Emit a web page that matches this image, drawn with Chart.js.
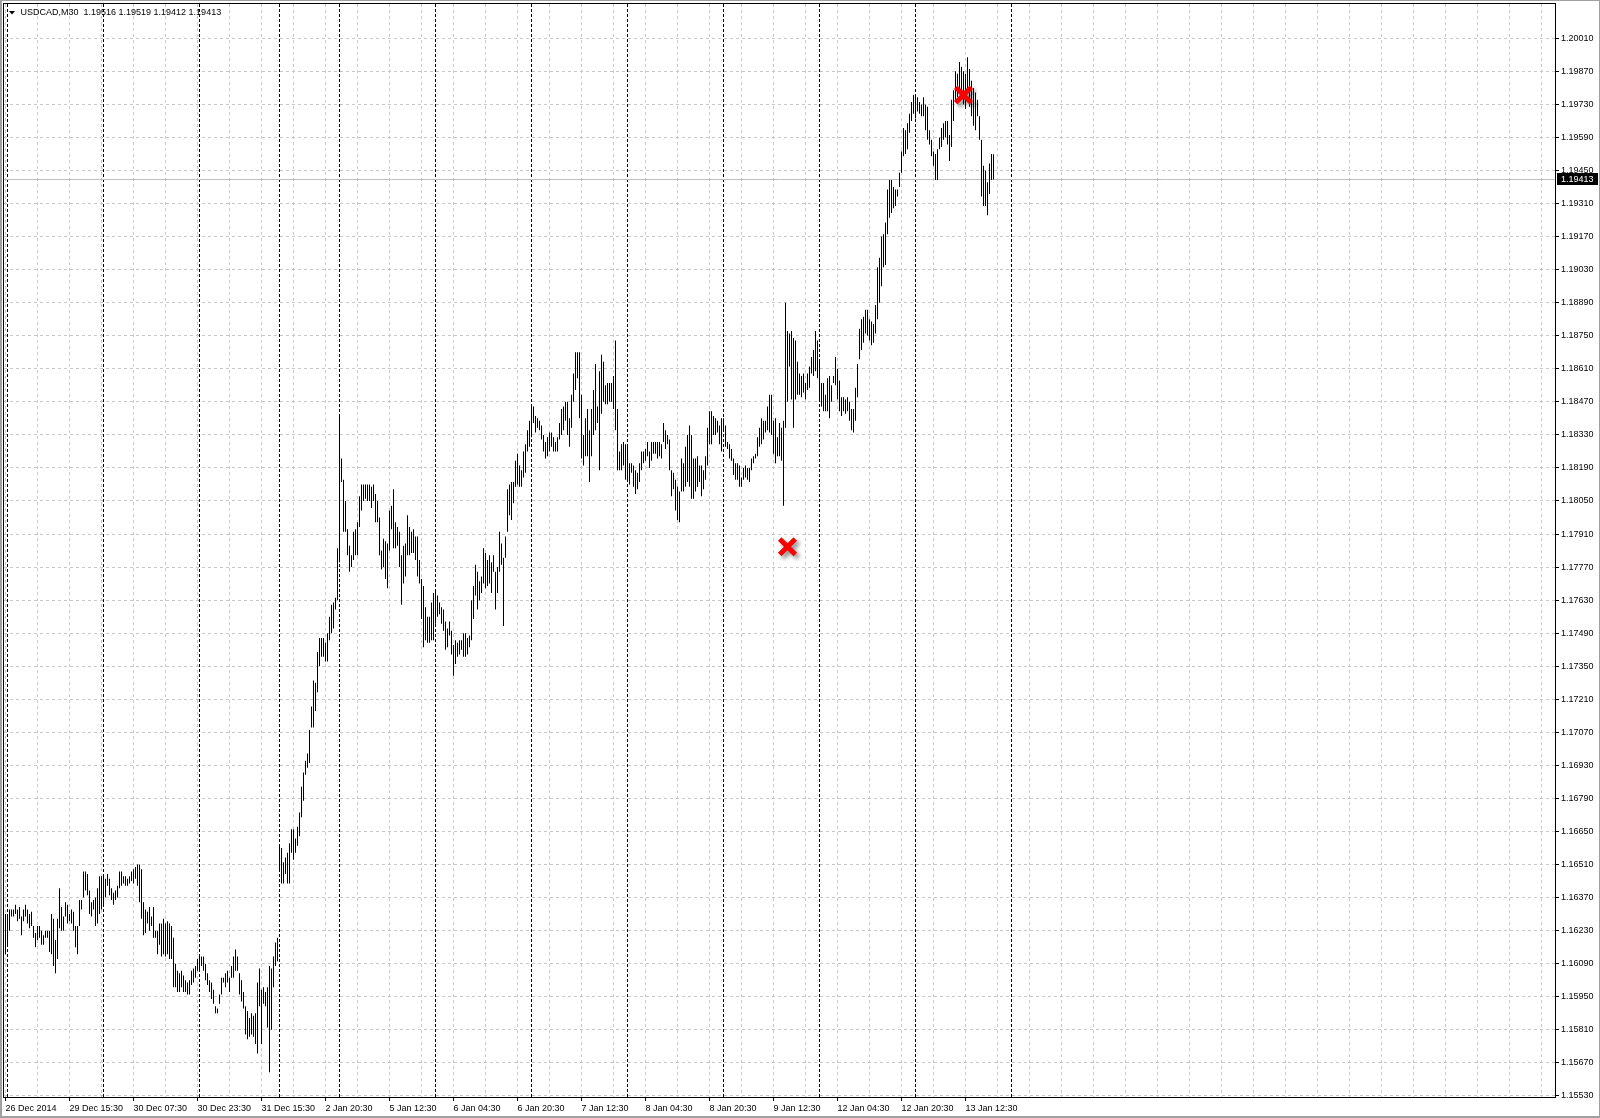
<!DOCTYPE html>
<html>
<head>
<meta charset="utf-8">
<title>USDCAD,M30</title>
<script src="https://cdn.jsdelivr.net/npm/chart.js"></script>
<style>
  html, body { margin: 0; padding: 0; background: #fff; }
  canvas { display: block; }
</style>
</head>
<body>
<canvas id="chart" width="1600" height="1118"></canvas>
<script>
// -------- DATA --------
const symbolTitle = "USDCAD,M30  1.19516 1.19519 1.19412 1.19413";

// M30 bar highs, one per bar, left to right
const highs = [
  // 0
  1.1630,1.1629,1.1632,1.1632,1.1632,1.1634,1.1632,1.1633,1.1629,1.1632,
  1.1634,1.1632,1.1630,1.1631,1.1625,1.1622,1.1625,1.1625,1.1623,1.1621,
  1.1623,1.1623,1.1623,1.1630,1.1628,1.1619,1.1628,1.1641,1.1633,1.1629,
  1.1635,1.1634,1.1630,1.1632,1.1631,1.1625,1.1625,1.1636,1.1636,1.1648,
  1.1648,1.1647,1.1640,1.1635,1.1636,1.1637,1.1641,1.1646,1.1646,1.1647,
  // 50
  1.1645,1.1647,1.1645,1.1641,1.1639,1.1640,1.1642,1.1648,1.1648,1.1646,
  1.1646,1.1645,1.1646,1.1648,1.1649,1.1650,1.1651,1.1651,1.1649,1.1635,
  1.1632,1.1631,1.1633,1.1629,1.1633,1.1623,1.1623,1.1626,1.1626,1.1628,
  1.1626,1.1627,1.1626,1.1625,1.1620,1.1609,1.1606,1.1605,1.1606,1.1604,
  1.1602,1.1601,1.1602,1.1606,1.1607,1.1608,1.1611,1.1612,1.1612,1.1612,
  // 100
  1.1609,1.1605,1.1602,1.1601,1.1598,1.1591,1.1590,1.1596,1.1603,1.1603,
  1.1605,1.1606,1.1603,1.1608,1.1612,1.1615,1.1612,1.1605,1.1602,1.1597,
  1.1591,1.1589,1.1586,1.1588,1.1587,1.1588,1.1601,1.1607,1.1598,1.1599,
  1.1597,1.1599,1.1608,1.1607,1.1612,1.1618,1.1620,1.1659,1.1658,1.1652,
  1.1654,1.1656,1.1660,1.1666,1.1666,1.1662,1.1667,1.1673,1.1684,1.1690,
  // 150
  1.1695,1.1698,1.1708,1.1718,1.1729,1.1728,1.1741,1.1747,1.1747,1.1747,
  1.1745,1.1749,1.1756,1.1761,1.1762,1.1764,1.1785,1.1841,1.1823,1.1814,
  1.1805,1.1793,1.1786,1.1782,1.1792,1.1793,1.1796,1.1807,1.1812,1.1812,
  1.1812,1.1812,1.1812,1.1811,1.1812,1.1808,1.1805,1.1798,1.1784,1.1789,
  1.1788,1.1787,1.1801,1.1803,1.1810,1.1796,1.1794,1.1792,1.1782,1.1786,
  // 200
  1.1787,1.1799,1.1794,1.1792,1.1793,1.1790,1.1790,1.1780,1.1772,1.1769,
  1.1760,1.1756,1.1756,1.1762,1.1766,1.1767,1.1765,1.1762,1.1760,1.1759,
  1.1754,1.1751,1.1754,1.1750,1.1744,1.1746,1.1745,1.1746,1.1746,1.1749,
  1.1749,1.1747,1.1748,1.1763,1.1769,1.1778,1.1775,1.1771,1.1773,1.1785,
  1.1783,1.1780,1.1782,1.1779,1.1782,1.1775,1.1777,1.1792,1.1787,1.1781,
  // 250
  1.1790,1.1810,1.1812,1.1813,1.1813,1.1822,1.1825,1.1820,1.1818,1.1826,
  1.1829,1.1835,1.1839,1.1845,1.1845,1.1841,1.1840,1.1839,1.1837,1.1833,
  1.1830,1.1832,1.1834,1.1834,1.1832,1.1830,1.1832,1.1838,1.1844,1.1845,
  1.1847,1.1847,1.1840,1.1850,1.1859,1.1868,1.1868,1.1868,1.1850,1.1833,
  1.1840,1.1844,1.1835,1.1844,1.1852,1.1863,1.1845,1.1860,1.1867,1.1864,
  // 300
  1.1854,1.1855,1.1855,1.1855,1.1858,1.1873,1.1844,1.1826,1.1829,1.1830,
  1.1829,1.1828,1.1821,1.1821,1.1820,1.1818,1.1817,1.1821,1.1826,1.1826,
  1.1827,1.1830,1.1826,1.1830,1.1830,1.1830,1.1830,1.1830,1.1829,1.1838,
  1.1835,1.1833,1.1831,1.1818,1.1817,1.1814,1.1811,1.1809,1.1823,1.1821,
  1.1828,1.1833,1.1837,1.1833,1.1823,1.1823,1.1824,1.1820,1.1820,1.1818,
  // 350
  1.1824,1.1836,1.1843,1.1843,1.1841,1.1840,1.1839,1.1837,1.1840,1.1840,
  1.1837,1.1830,1.1829,1.1827,1.1823,1.1821,1.1821,1.1820,1.1815,1.1819,
  1.1820,1.1819,1.1819,1.1823,1.1824,1.1825,1.1832,1.1836,1.1840,1.1839,
  1.1839,1.1845,1.1850,1.1850,1.1839,1.1840,1.1832,1.1838,1.1836,1.1839,
  1.1889,1.1877,1.1876,1.1877,1.1874,1.1873,1.1864,1.1859,1.1858,1.1859,
  // 400
  1.1855,1.1859,1.1862,1.1866,1.1869,1.1877,1.1873,1.1865,1.1855,1.1855,
  1.1850,1.1857,1.1858,1.1854,1.1858,1.1866,1.1861,1.1856,1.1849,1.1849,
  1.1848,1.1849,1.1847,1.1844,1.1844,1.1853,1.1863,1.1878,1.1882,1.1883,
  1.1886,1.1886,1.1882,1.1881,1.1880,1.1888,1.1904,1.1908,1.1917,1.1918,
  1.1923,1.1937,1.1941,1.1941,1.1938,1.1937,1.1937,1.1944,1.1953,1.1963,
  // 450
  1.1962,1.1965,1.1969,1.1974,1.1977,1.1977,1.1976,1.1974,1.1973,1.1976,
  1.1973,1.1972,1.1962,1.1958,1.1953,1.1952,1.1954,1.1959,1.1963,1.1965,
  1.1966,1.1966,1.1960,1.1975,1.1979,1.1987,1.1986,1.1991,1.1989,1.1987,
  1.1986,1.1993,1.1988,1.1983,1.1980,1.1978,1.1975,1.1968,1.1958,1.1947,
  1.1945,1.1940,1.1948,1.1952,1.19519
];

// M30 bar lows, same order
const lows = [
  // 0
  1.1613,1.1617,1.1623,1.1629,1.1629,1.1630,1.1627,1.1628,1.1621,1.1627,
  1.1629,1.1626,1.1624,1.1625,1.1620,1.1616,1.1619,1.1620,1.1617,1.1617,
  1.1620,1.1620,1.1614,1.1613,1.1608,1.1605,1.1611,1.1624,1.1623,1.1623,
  1.1629,1.1626,1.1627,1.1626,1.1623,1.1616,1.1613,1.1625,1.1632,1.1637,
  1.1640,1.1638,1.1630,1.1629,1.1632,1.1625,1.1626,1.1630,1.1632,1.1633,
  // 50
  1.1637,1.1642,1.1638,1.1636,1.1634,1.1636,1.1637,1.1641,1.1642,1.1643,
  1.1642,1.1642,1.1643,1.1644,1.1643,1.1645,1.1642,1.1635,1.1628,1.1621,
  1.1622,1.1626,1.1623,1.1625,1.1620,1.1620,1.1613,1.1617,1.1612,1.1613,
  1.1612,1.1613,1.1611,1.1611,1.1599,1.1599,1.1597,1.1597,1.1599,1.1597,
  1.1597,1.1596,1.1596,1.1600,1.1601,1.1603,1.1606,1.1606,1.1608,1.1606,
  // 100
  1.1602,1.1600,1.1597,1.1594,1.1592,1.1588,1.1588,1.1592,1.1596,1.1601,
  1.1599,1.1601,1.1597,1.1603,1.1603,1.1606,1.1606,1.1596,1.1593,1.1590,
  1.1579,1.1577,1.1578,1.1579,1.1578,1.1575,1.1571,1.1591,1.1575,1.1592,
  1.1591,1.1582,1.1563,1.1581,1.1599,1.1608,1.1610,1.1648,1.1643,1.1643,
  1.1647,1.1643,1.1643,1.1656,1.1653,1.1656,1.1659,1.1663,1.1671,1.1678,
  // 150
  1.1689,1.1692,1.1694,1.1709,1.1709,1.1716,1.1724,1.1735,1.1739,1.1739,
  1.1737,1.1737,1.1746,1.1749,1.1751,1.1759,1.1763,1.1779,1.1813,1.1792,
  1.1792,1.1782,1.1775,1.1777,1.1780,1.1782,1.1782,1.1794,1.1801,1.1805,
  1.1806,1.1805,1.1805,1.1802,1.1805,1.1796,1.1796,1.1782,1.1776,1.1777,
  1.1772,1.1768,1.1784,1.1793,1.1785,1.1785,1.1786,1.1777,1.1761,1.1770,
  // 200
  1.1773,1.1782,1.1782,1.1783,1.1783,1.1780,1.1773,1.1770,1.1755,1.1743,
  1.1746,1.1745,1.1745,1.1746,1.1746,1.1753,1.1756,1.1757,1.1753,1.1750,
  1.1742,1.1743,1.1748,1.1740,1.1731,1.1736,1.1739,1.1740,1.1742,1.1739,
  1.1739,1.1740,1.1743,1.1746,1.1755,1.1765,1.1759,1.1763,1.1766,1.1770,
  1.1768,1.1769,1.1770,1.1766,1.1775,1.1759,1.1766,1.1775,1.1778,1.1752,
  // 250
  1.1781,1.1792,1.1799,1.1797,1.1804,1.1811,1.1812,1.1811,1.1811,1.1815,
  1.1817,1.1826,1.1828,1.1832,1.1838,1.1834,1.1836,1.1835,1.1831,1.1826,
  1.1823,1.1824,1.1826,1.1828,1.1826,1.1826,1.1826,1.1831,1.1833,1.1835,
  1.1839,1.1833,1.1828,1.1836,1.1847,1.1852,1.1857,1.1840,1.1823,1.1820,
  1.1824,1.1824,1.1813,1.1824,1.1833,1.1835,1.1838,1.1818,1.1842,1.1847,
  // 300
  1.1846,1.1846,1.1847,1.1847,1.1844,1.1835,1.1818,1.1818,1.1818,1.1820,
  1.1814,1.1813,1.1812,1.1817,1.1811,1.1808,1.1810,1.1813,1.1818,1.1821,
  1.1822,1.1824,1.1819,1.1822,1.1825,1.1825,1.1823,1.1824,1.1823,1.1830,
  1.1827,1.1829,1.1818,1.1807,1.1810,1.1801,1.1797,1.1796,1.1809,1.1809,
  1.1811,1.1813,1.1811,1.1806,1.1806,1.1809,1.1811,1.1813,1.1807,1.1810,
  // 350
  1.1814,1.1820,1.1829,1.1829,1.1833,1.1833,1.1834,1.1829,1.1826,1.1835,
  1.1828,1.1827,1.1823,1.1822,1.1816,1.1814,1.1814,1.1811,1.1811,1.1814,
  1.1815,1.1814,1.1813,1.1818,1.1821,1.1823,1.1824,1.1828,1.1829,1.1831,
  1.1834,1.1835,1.1834,1.1833,1.1825,1.1821,1.1824,1.1824,1.1822,1.1803,
  1.1836,1.1847,1.1862,1.1848,1.1836,1.1848,1.1850,1.1850,1.1849,1.1851,
  // 400
  1.1848,1.1852,1.1853,1.1859,1.1858,1.1860,1.1857,1.1847,1.1845,1.1843,
  1.1843,1.1843,1.1840,1.1847,1.1855,1.1854,1.1848,1.1843,1.1841,1.1843,
  1.1842,1.1843,1.1839,1.1835,1.1834,1.1839,1.1849,1.1865,1.1869,1.1872,
  1.1876,1.1875,1.1873,1.1871,1.1872,1.1876,1.1882,1.1889,1.1896,1.1904,
  1.1905,1.1918,1.1925,1.1927,1.1929,1.1930,1.1934,1.1938,1.1944,1.1951,
  // 450
  1.1952,1.1954,1.1961,1.1966,1.1969,1.1967,1.1970,1.1969,1.1968,1.1968,
  1.1962,1.1958,1.1956,1.1951,1.1947,1.1941,1.1941,1.1954,1.1955,1.1958,
  1.1959,1.1956,1.1949,1.1955,1.1966,1.1974,1.1976,1.1979,1.1975,1.1973,
  1.1971,1.1979,1.1972,1.1968,1.1964,1.1962,1.1968,1.1958,1.1934,1.1930,
  1.1930,1.1926,1.1935,1.1941,1.19412
];

// time axis labels and the bar they sit on
const xTickLabels = [
  "26 Dec 2014", "29 Dec 15:30", "30 Dec 07:30", "30 Dec 23:30", "31 Dec 15:30",
  "2 Jan 20:30", "5 Jan 12:30", "6 Jan 04:30", "6 Jan 20:30", "7 Jan 12:30",
  "8 Jan 04:30", "8 Jan 20:30", "9 Jan 12:30", "12 Jan 04:30", "12 Jan 20:30",
  "13 Jan 12:30"
];
const xTickBars = [0, 32, 64, 96, 128, 160, 192, 224, 256, 288, 320, 352, 384, 416, 448, 480];

// day separators (first bar of each day)
const separatorBars = [1, 49, 97, 137, 167, 215, 263, 311, 359, 407, 455, 503];

const yTicks = [
  1.15530, 1.15670, 1.15810, 1.15950, 1.16090, 1.16230, 1.16370, 1.16510,
  1.16650, 1.16790, 1.16930, 1.17070, 1.17210, 1.17350, 1.17490, 1.17630,
  1.17770, 1.17910, 1.18050, 1.18190, 1.18330, 1.18470, 1.18610, 1.18750,
  1.18890, 1.19030, 1.19170, 1.19310, 1.19450, 1.19590, 1.19730, 1.19870,
  1.20010
];

const bidPrice = 1.19413;

// red "X" arrow objects
const markers = [
  { x: 391, y: 1.17856 },
  { x: 479, y: 1.19770 }
];

// -------- VIEW --------
const FONT = "'Liberation Sans', Arial, sans-serif";
const X_MIN = -0.75, X_MAX = 774.75;     // 2 px per bar
const Y_MIN = 1.155253, Y_MAX = 1.201553;

const gridBars = [];
for (let b = 0; b <= X_MAX; b += 16) gridBars.push(b);

function labelAt(v) {
  const k = xTickBars.indexOf(v);
  return k >= 0 ? xTickLabels[k] : "";
}

const mtPlugin = {
  id: "mt4",
  beforeDatasetsDraw(chart) {
    const { ctx, chartArea: a, scales: { x, y } } = chart;
    ctx.save();
    // period separators
    ctx.strokeStyle = "#000";
    ctx.lineWidth = 1;
    ctx.setLineDash([3, 2]);
    separatorBars.forEach((b) => {
      const px = Math.floor(x.getPixelForValue(b)) + 0.5;
      if (px < a.left || px > a.right) return;
      ctx.beginPath();
      ctx.moveTo(px, a.top);
      ctx.lineTo(px, a.bottom);
      ctx.stroke();
    });
    // bid line
    ctx.setLineDash([]);
    ctx.strokeStyle = "#c0c0c0";
    const by = Math.floor(y.getPixelForValue(bidPrice)) + 0.5;
    ctx.beginPath();
    ctx.moveTo(a.left, by);
    ctx.lineTo(a.right, by);
    ctx.stroke();
    ctx.restore();
  },
  beforeDatasetDraw(chart, args) {
    if (args.index !== 1) return;
    const ctx = chart.ctx;
    ctx.save();
    ctx.shadowColor = "rgba(0,0,0,0.45)";
    ctx.shadowBlur = 4;
    ctx.shadowOffsetX = 3;
    ctx.shadowOffsetY = 3;
  },
  afterDatasetDraw(chart, args) {
    if (args.index !== 1) return;
    chart.ctx.restore();
  },
  afterDraw(chart) {
    const { ctx, chartArea: a, scales: { y }, width, height } = chart;
    ctx.save();
    // plot frame
    ctx.strokeStyle = "#000";
    ctx.lineWidth = 1;
    ctx.strokeRect(a.left - 0.5, a.top - 0.5, a.right - a.left + 1, a.bottom - a.top + 1);
    // window edge
    ctx.fillStyle = "#a0a0a0";
    ctx.fillRect(0, 0, width, 1);
    ctx.fillRect(0, 0, 2, height);
    ctx.fillRect(0, height - 2, width, 2);
    ctx.fillRect(width - 1, 0, 1, height);
    // header
    ctx.fillStyle = "#000";
    ctx.beginPath();
    ctx.moveTo(9, 11);
    ctx.lineTo(15, 11);
    ctx.lineTo(12, 14.5);
    ctx.closePath();
    ctx.fill();
    ctx.font = "9px " + FONT;
    ctx.textBaseline = "middle";
    ctx.fillText(symbolTitle, 20.5, 13);
    // current price box on the axis
    const by = y.getPixelForValue(bidPrice);
    ctx.fillRect(a.right + 2, Math.round(by) - 6, 41, 12);
    ctx.fillStyle = "#fff";
    ctx.fillText(bidPrice.toFixed(5), a.right + 6, Math.round(by) + 0.5);
    ctx.restore();
  }
};

const chart = new Chart(document.getElementById("chart"), {
  type: "bar",
  data: {
    datasets: [
      {
        type: "bar",
        label: "USDCAD",
        data: highs.map((h, i) => ({ x: i, y: [lows[i], h] })),
        backgroundColor: "#000",
        borderWidth: 0,
        barThickness: 1,
        inflateAmount: 0,
        grouped: false,
        order: 2
      },
      {
        type: "scatter",
        label: "marks",
        data: markers,
        pointStyle: "crossRot",
        pointRadius: 11,
        pointBorderWidth: 5,
        pointBorderColor: "#f80000",
        pointBackgroundColor: "#f80000",
        order: 1
      }
    ]
  },
  options: {
    responsive: false,
    animation: false,
    devicePixelRatio: 1,
    layout: { autoPadding: false, padding: { left: 4, top: 4, right: 0, bottom: 0 } },
    plugins: {
      legend: { display: false },
      tooltip: { enabled: false }
    },
    scales: {
      x: {
        type: "linear",
        min: X_MIN,
        max: X_MAX,
        offset: false,
        afterBuildTicks: (s) => { s.ticks = gridBars.map((v) => ({ value: v })); },
        afterFit: (s) => { s.height = 21; s.paddingLeft = 0; s.paddingRight = 0; },
        grid: {
          offset: false,
          color: "#c8c8c8",
          lineWidth: 1,
          tickLength: 4,
          tickBorderDash: [],
          tickColor: (c) => (labelAt(c.tick && c.tick.value) ? "#000" : "rgba(0,0,0,0)")
        },
        border: { display: false, dash: [3, 3] },
        ticks: {
          autoSkip: false,
          maxRotation: 0,
          minRotation: 0,
          align: "start",
          padding: 2,
          color: "#000",
          font: { family: FONT, size: 9 },
          callback: (v) => labelAt(v)
        }
      },
      y: {
        position: "right",
        min: Y_MIN,
        max: Y_MAX,
        afterBuildTicks: (s) => { s.ticks = yTicks.map((v) => ({ value: v })); },
        afterFit: (s) => { s.width = 45; s.paddingTop = 0; s.paddingBottom = 0; },
        grid: {
          color: "#c8c8c8",
          lineWidth: 1,
          tickLength: 4,
          tickBorderDash: [],
          tickColor: "#000"
        },
        border: { display: false, dash: [3, 3] },
        ticks: {
          padding: 2,
          color: "#000",
          font: { family: FONT, size: 9 },
          callback: (v) => Number(v).toFixed(5)
        }
      }
    }
  },
  plugins: [mtPlugin]
});
</script>
</body>
</html>
